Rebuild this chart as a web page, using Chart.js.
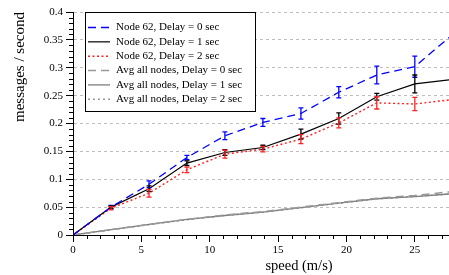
<!DOCTYPE html>
<html>
<head>
<meta charset="utf-8">
<script src="https://cdn.jsdelivr.net/npm/chart.js@4"></script>
<style>
   html, body { margin: 0; padding: 0; background: #fff; }
   #chart { display: block; }
</style>
</head>
<body>
<canvas id="chart" width="449" height="275"></canvas>
<script>
// speed in m/s (10 .. 100 km/h)
const speeds = [0, 2.78, 5.56, 8.33, 11.11, 13.89, 16.67, 19.44, 22.22, 25, 27.78];

const node62Delay0 = [0, 0.05, 0.091, 0.139, 0.178, 0.202, 0.218, 0.256, 0.287, 0.302, 0.36];
const node62Delay1 = [0, 0.05, 0.083, 0.129, 0.148, 0.157, 0.181, 0.209, 0.248, 0.271, 0.279];
const node62Delay2 = [0, 0.048, 0.075, 0.117, 0.145, 0.154, 0.172, 0.201, 0.237, 0.235, 0.243];

const node62Err0 = [0, 0.003, 0.006, 0.004, 0.007, 0.007, 0.01, 0.01, 0.016, 0.019, 0.02];
const node62Err1 = [0, 0.002, 0.005, 0.004, 0.005, 0.004, 0.009, 0.01, 0.006, 0.016, 0.01];
const node62Err2 = [0, 0.003, 0.007, 0.005, 0.007, 0.005, 0.008, 0.009, 0.011, 0.012, 0.01];

const avgDelay0 = [0, 0.0095, 0.019, 0.028, 0.036, 0.042, 0.05, 0.058, 0.066, 0.071, 0.078];
const avgDelay1 = [0, 0.0095, 0.019, 0.028, 0.035, 0.041, 0.049, 0.057, 0.065, 0.069, 0.074];
const avgDelay2 = [0, 0.0093, 0.0185, 0.0275, 0.035, 0.041, 0.049, 0.057, 0.065, 0.069, 0.074];

const seriesLabels = [
   "Node 62, Delay = 0 sec",
   "Node 62, Delay = 1 sec",
   "Node 62, Delay = 2 sec",
   "Avg all nodes, Delay = 0 sec",
   "Avg all nodes, Delay = 1 sec",
   "Avg all nodes, Delay = 2 sec",
];

const X_TITLE = "speed (m/s)";
const Y_TITLE = "messages / second";
const FONT = "'Liberation Serif', 'Times New Roman', serif";

const toPoints = (ys) => ys.map((y, i) => ({ x: speeds[i], y: y }));

const makeSet = (label, ys, color, dash, width, errs) => ({
   label: label,
   data: toPoints(ys),
   borderColor: color,
   borderDash: dash,
   borderWidth: width,
   pointRadius: 0,
   tension: 0,
   fill: false,
   errors: errs,
});

// vertical error bars, drawn through the scales
const errorBars = {
   id: "errorBars",
   afterDatasetsDraw(chart) {
      const { ctx, chartArea, scales } = chart;
      ctx.save();
      ctx.beginPath();
      ctx.rect(chartArea.left, chartArea.top - 2, chartArea.right - chartArea.left, chartArea.bottom - chartArea.top + 4);
      ctx.clip();
      chart.data.datasets.forEach((ds) => {
         if (!ds.errors) return;
         ctx.strokeStyle = ds.borderColor;
         ctx.lineWidth = 1.3;
         ctx.setLineDash([]);
         ds.data.forEach((p, i) => {
            const e = ds.errors[i];
            if (!e) return;
            const px = scales.x.getPixelForValue(p.x);
            const top = scales.y.getPixelForValue(p.y + e);
            const bot = scales.y.getPixelForValue(p.y - e);
            ctx.beginPath();
            ctx.moveTo(px, top);
            ctx.lineTo(px, bot);
            ctx.moveTo(px - 2.5, top);
            ctx.lineTo(px + 2.5, top);
            ctx.moveTo(px - 2.5, bot);
            ctx.lineTo(px + 2.5, bot);
            ctx.stroke();
         });
      });
      ctx.restore();
   },
};

// minor ticks every 1 m/s and every 0.01 msg/s
const minorTicks = {
   id: "minorTicks",
   afterDraw(chart) {
      const { ctx, scales } = chart;
      const x = scales.x;
      const y = scales.y;
      ctx.save();
      ctx.strokeStyle = "#000";
      ctx.lineWidth = 1;
      ctx.beginPath();
      for (let v = 1; v <= x.max; v++) {
         if (v % 5 === 0) continue;
         const px = Math.round(x.getPixelForValue(v)) + 0.5;
         ctx.moveTo(px, x.top);
         ctx.lineTo(px, x.top + 4);
      }
      for (let i = 1; i < 40; i++) {
         if (i % 5 === 0) continue;
         const py = Math.round(y.getPixelForValue(i / 100)) + 0.5;
         ctx.moveTo(y.right, py);
         ctx.lineTo(y.right - 4, py);
      }
      ctx.stroke();
      ctx.restore();
   },
};

// boxed legend inside the plot + x title
const boxLegend = {
   id: "boxLegend",
   afterDraw(chart) {
      const { ctx } = chart;
      const bx = 85.5, by = 12.5, bw = 170, bh = 99;
      ctx.save();
      ctx.fillStyle = "#fff";
      ctx.fillRect(bx, by, bw, bh);
      ctx.strokeStyle = "#000";
      ctx.lineWidth = 1;
      ctx.setLineDash([]);
      ctx.strokeRect(bx, by, bw, bh);
      ctx.font = "11px " + FONT;
      ctx.textBaseline = "middle";
      chart.data.datasets.forEach((ds, i) => {
         const ly = 27.5 + i * 14.35;
         ctx.strokeStyle = ds.borderColor;
         ctx.lineWidth = ds.borderWidth;
         ctx.setLineDash(ds.borderDash || []);
         ctx.beginPath();
         ctx.moveTo(88, ly);
         ctx.lineTo(110, ly);
         ctx.stroke();
         ctx.fillStyle = "#000";
         ctx.fillText(ds.label, 116, ly);
      });
      ctx.setLineDash([]);
      ctx.font = "14.5px " + FONT;
      ctx.textAlign = "center";
      ctx.fillText(X_TITLE, 299, 266);
      ctx.restore();
   },
};

const drawChart = () => {
   const canvas = document.getElementById("chart");
   const ctx = canvas.getContext("2d");

   new Chart(ctx, {
      type: "line",
      data: {
         datasets: [
            makeSet(seriesLabels[0], node62Delay0, "#0000ff", [8, 5], 1.3, node62Err0),
            makeSet(seriesLabels[1], node62Delay1, "#000000", [], 1.2, node62Err1),
            makeSet(seriesLabels[2], node62Delay2, "#ff2020", [2, 2.5], 1.4, node62Err2),
            makeSet(seriesLabels[3], avgDelay0, "#999999", [8, 5], 1.5, null),
            makeSet(seriesLabels[4], avgDelay1, "#7f7f7f", [], 1.3, null),
            makeSet(seriesLabels[5], avgDelay2, "#999999", [2, 3], 1.5, null),
         ],
      },
      options: {
         responsive: false,
         animation: false,
         layout: {
            padding: { top: 12, right: 0, bottom: 0, left: 0 },
         },
         scales: {
            x: {
               type: "linear",
               min: 0,
               max: 27.5,
               afterFit: (scale) => {
                  scale.height = 40;
               },
               ticks: {
                  stepSize: 5,
                  includeBounds: false,
                  color: "#000",
                  padding: 2,
                  maxRotation: 0,
                  font: { family: FONT, size: 11 },
               },
               grid: {
                  drawOnChartArea: false,
                  tickLength: 7,
                  tickColor: "#000",
               },
               border: { color: "#000", width: 1 },
            },
            y: {
               min: 0,
               max: 0.4,
               afterFit: (scale) => {
                  scale.width = 73;
               },
               ticks: {
                  stepSize: 0.05,
                  color: "#000",
                  padding: 3,
                  font: { family: FONT, size: 11 },
                  callback: (v) => String(+v.toFixed(2)),
               },
               grid: {
                  color: "#bdbdbd",
                  tickLength: 7,
                  tickColor: "#000",
                  tickBorderDash: [],
               },
               border: { color: "#000", width: 1, dash: [3, 3] },
               title: {
                  display: true,
                  text: Y_TITLE,
                  align: "end",
                  color: "#000",
                  padding: { top: 11, bottom: 0 },
                  font: { family: FONT, size: 15 },
               },
            },
         },
         plugins: {
            legend: { display: false },
            tooltip: { enabled: false },
         },
      },
      plugins: [errorBars, minorTicks, boxLegend],
   });
};

drawChart();
</script>
</body>
</html>
